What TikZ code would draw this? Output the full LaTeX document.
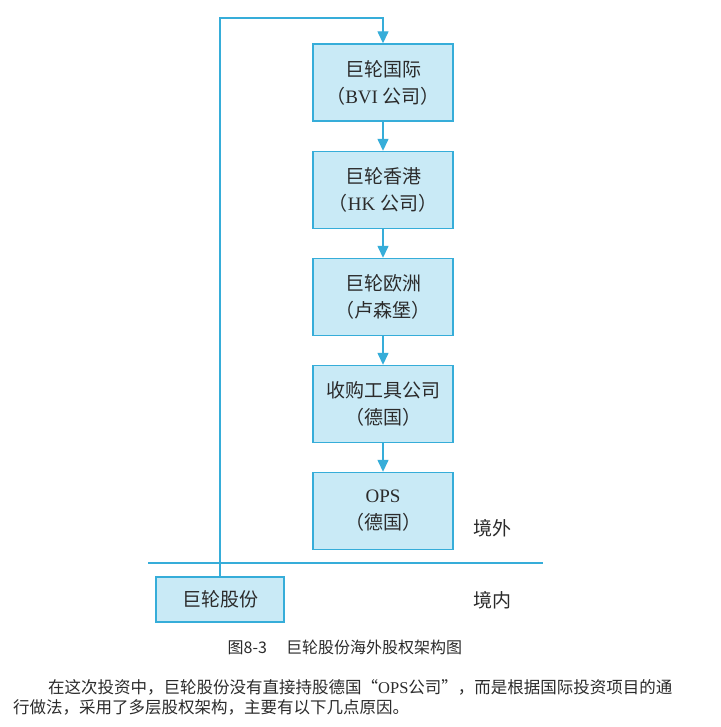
\documentclass[tikz,border=0pt]{standalone}
\usepackage{fontspec}
\setmainfont{Liberation Serif}
\newfontfamily\cjk{Noto Sans CJK SC}
\usetikzlibrary{arrows.meta}
\definecolor{boxfill}{HTML}{C9EAF6}
\definecolor{boxline}{HTML}{36ADD9}
\definecolor{txt}{HTML}{2B2B2B}
\tikzset{
  compbox/.style={draw=boxline, fill=boxfill, line width=1.4pt, minimum width=140pt, minimum height=77pt, align=center, text=txt, font=\fontsize{19}{27}\selectfont, inner sep=0pt},
  homebox/.style={draw=boxline, fill=boxfill, line width=1.4pt, minimum width=128pt, minimum height=45pt, align=center, text=txt, font=\fontsize{19}{27}\selectfont, inner sep=0pt},
  conn/.style={draw=boxline, line width=1.4pt, -{Triangle[length=12pt,width=11pt]}},
  plainline/.style={draw=boxline, line width=1.3pt},
  zone/.style={text=txt, font=\fontsize{19}{24}\selectfont\cjk, inner sep=0pt},
  para/.style={text=txt, font=\fontsize{16.5}{20}\selectfont, inner sep=0pt, anchor=west},
}
\begin{document}
\begin{tikzpicture}[x=1pt,y=-1pt]
\useasboundingbox (0,0) rectangle (720,727);
\fill[white] (0,0) rectangle (720,727);
\node[compbox] (b1) at (383,82.5) {{\cjk 巨轮国际}\\{\cjk （}BVI {\cjk 公司）}};
\node[compbox] (b2) at (383,190) {{\cjk 巨轮香港}\\{\cjk （}HK {\cjk 公司）}};
\node[compbox] (b3) at (383,297) {{\cjk 巨轮欧洲}\\{\cjk （卢森堡）}};
\node[compbox] (b4) at (383,404) {{\cjk 收购工具公司}\\{\cjk （德国）}};
\node[compbox] (b5) at (383,511) {OPS\\{\cjk （德国）}};
\node[homebox] (gf) at (220,599.5) {{\cjk 巨轮股份}};
\node[zone] (out) at (492,528) {境外};
\node[zone] (in) at (492,600) {境内};
\coordinate (hl) at (148,563);
\coordinate (hr) at (543,563);
\coordinate (corner) at (220,18);
\draw[plainline] (hl) -- (hr);
\draw[conn] (gf.north) -- (corner) -| (b1.north);
\draw[conn] (b1) -- (b2);
\draw[conn] (b2) -- (b3);
\draw[conn] (b3) -- (b4);
\draw[conn] (b4) -- (b5);
\node[text=txt, font=\fontsize{16}{20}\selectfont\cjk, inner sep=0pt] (cap) at (345,647) {图8-3\hspace{1.2em}巨轮股份海外股权架构图};
\node[para] (p1) at (48,687) {{\cjk 在这次投资中，巨轮股份没有直接持股德国“}OPS{\cjk 公司”，而是根据国际投资项目的通}};
\node[para] (p2) at (13,707) {{\cjk 行做法，采用了多层股权架构，主要有以下几点原因。}};
\end{tikzpicture}
\end{document}
